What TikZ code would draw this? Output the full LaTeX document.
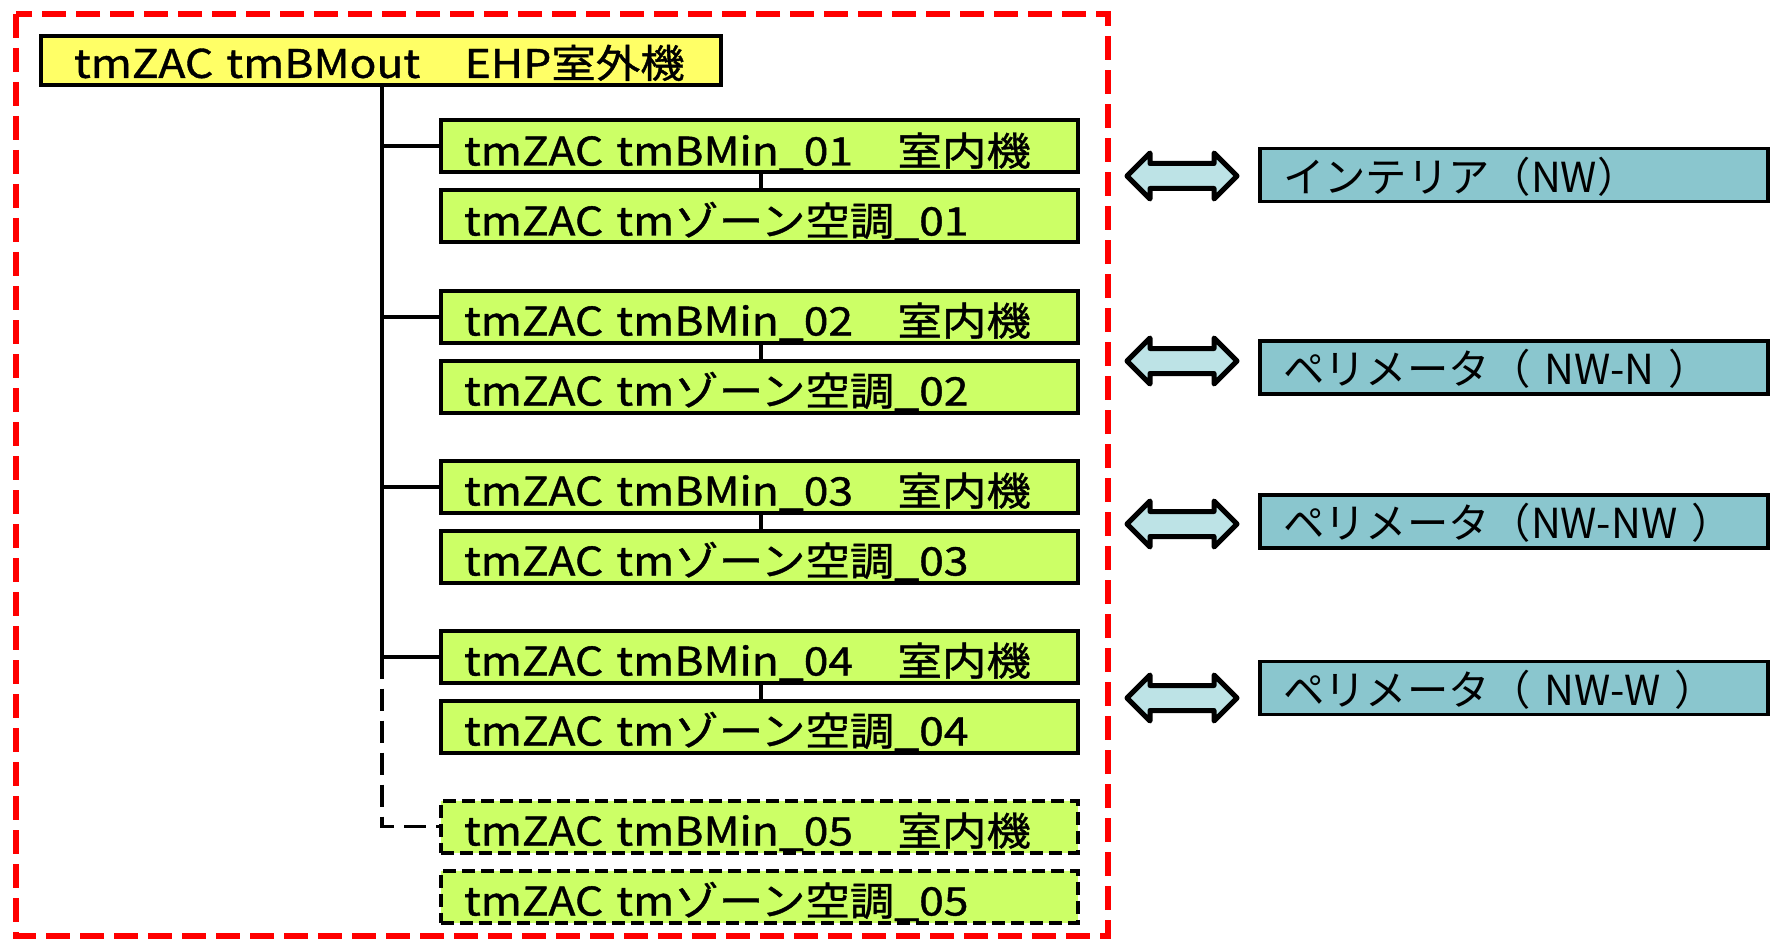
\documentclass[tikz,border=0pt]{standalone}
\usepackage{fontspec}
\setmainfont{Noto Sans CJK JP}
\newfontfamily\unitfont[FakeStretch=1.13, FakeBold=1]{Noto Sans CJK JP}
\newfontfamily\zonefont{Noto Sans CJK JP}
\usetikzlibrary{calc}

\definecolor{outdoorfill}{HTML}{FFFF66}
\definecolor{unitfill}{HTML}{CCFF66}
\definecolor{zonefill}{HTML}{8AC6CE}
\definecolor{linkfill}{HTML}{BDE3E6}
\definecolor{groupred}{HTML}{FF0000}

\tikzset{
  boxbase/.style={draw=black, line width=3pt, rectangle, anchor=north west,
    outer sep=0pt, inner ysep=0pt, align=left, text depth=0pt},
  outdoorbox/.style={boxbase, fill=outdoorfill, inner xsep=24.75pt,
    text width=460.5pt, minimum width=510pt, minimum height=36.75pt,
    text height=26pt, font=\unitfont\fontsize{29.5pt}{32pt}\selectfont},
  unitbox/.style={boxbase, fill=unitfill, inner xsep=17.25pt,
    text width=443.25pt, minimum width=477.75pt, minimum height=39pt,
    text height=28.5pt, font=\unitfont\fontsize{29.5pt}{32pt}\selectfont},
  planbox/.style={unitbox, dash pattern=on 9.75pt off 4.5pt},
  zonebox/.style={boxbase, fill=zonefill, line width=2.6pt, inner xsep=17.25pt,
    text width=346.5pt, minimum width=381pt, minimum height=39.75pt,
    text height=25.6pt, font=\zonefont\fontsize{31pt}{34pt}\selectfont},
  conn/.style={draw=black, line width=3pt},
  planconn/.style={conn, line width=2.6pt, dash pattern=on 16.5pt off 7.5pt},
  group/.style={draw=groupred, line width=4.5pt, dash pattern=on 18pt off 7.5pt},
  linkarrow/.style={draw=black, fill=linkfill, line width=3.75pt, line join=round},
  pics/dblarrow/.style={code={
    \path[linkarrow] (-55,0) -- (-32,-23) -- (-32,-12.5) -- (32,-12.5) -- (32,-23)
      -- (55,0) -- (32,23) -- (32,12.5) -- (-32,12.5) -- (-32,23) -- cycle;
  }}
}

\begin{document}
\begin{tikzpicture}[x=0.75pt, y=-0.75pt]
\useasboundingbox (0,0) rectangle (1776,941);

% system boundary
\draw[group] (16,14) rectangle (1108,936);

% outdoor unit
\node[outdoorbox] (ehp) at (41,36) {\mbox{tmZAC tmBMout　EHP室外機}};

% indoor units and their zones
\node[unitbox] (m1) at (441,120.5) {\mbox{tmZAC tmBMin\_01　室内機}};
\node[unitbox] (z1) at (441,190.5) {\mbox{tmZAC tmゾーン空調\_01}};
\node[unitbox] (m2) at (441,290.5) {\mbox{tmZAC tmBMin\_02　室内機}};
\node[unitbox] (z2) at (441,360.5) {\mbox{tmZAC tmゾーン空調\_02}};
\node[unitbox] (m3) at (441,460.5) {\mbox{tmZAC tmBMin\_03　室内機}};
\node[unitbox] (z3) at (441,530.5) {\mbox{tmZAC tmゾーン空調\_03}};
\node[unitbox] (m4) at (441,630.5) {\mbox{tmZAC tmBMin\_04　室内機}};
\node[unitbox] (z4) at (441,700.5) {\mbox{tmZAC tmゾーン空調\_04}};
\node[planbox] (m5) at (441,800.5) {\mbox{tmZAC tmBMin\_05　室内機}};
\node[planbox] (z5) at (441,870.5) {\mbox{tmZAC tmゾーン空調\_05}};

% building zones
\node[zonebox] (a1) at (1260,148.5) {インテリア（NW）};
\node[zonebox] (a2) at (1260,341) {ペリメータ（ NW-N ）};
\node[zonebox] (a3) at (1260,495) {ペリメータ（NW-NW ）};
\node[zonebox] (a4) at (1260,661.5) {ペリメータ（ NW-W ）};

% refrigerant trunk
\coordinate (j0) at (382,84.5);
\draw[conn] (j0) |- (m1.west);
\draw[conn] (j0) |- (m2.west);
\draw[conn] (j0) |- (m3.west);
\draw[conn] (j0) |- (m4.west);
\draw[planconn] (j0 |- m4.west) |- (m5.west);

% unit to zone links
\foreach \m/\z in {m1/z1, m2/z2, m3/z3, m4/z4}
  \draw[conn] ([xshift=240pt]\m.south west) -- ([xshift=240pt]\z.north west);

% correspondence arrows
\pic at (1182,176) {dblarrow};
\pic at (1182,361) {dblarrow};
\pic at (1182,524) {dblarrow};
\pic at (1182,698) {dblarrow};
\end{tikzpicture}
\end{document}
